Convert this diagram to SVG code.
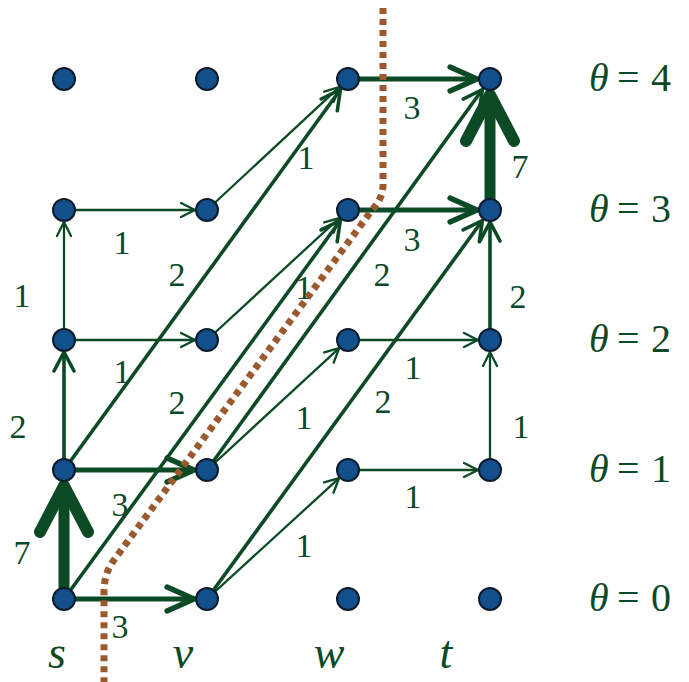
<svg xmlns="http://www.w3.org/2000/svg" width="689" height="682" viewBox="0 0 689 682">
<style>
.e{fill:none;stroke:#0c4a26;stroke-linecap:butt}
.w1{stroke-width:2.3;marker-end:url(#m1)}
.w2{stroke-width:3.6;marker-end:url(#m2)}
.w3{stroke-width:5.2;marker-end:url(#m3)}
.w7{stroke-width:11;marker-end:url(#m7)}
.n{fill:#134f8a;stroke:#0b1b2b;stroke-width:2}
.lbl{font-family:"Liberation Serif","Times New Roman",serif;font-size:34px;fill:#0c4a26;text-anchor:middle}
.th{font-family:"Liberation Serif","Times New Roman",serif;font-size:40px;fill:#0c4a26}
.nm{font-family:"Liberation Serif","Times New Roman",serif;font-size:46px;font-style:italic;fill:#0c4a26;text-anchor:middle}
.cut{fill:none;stroke:#9b5a2e;stroke-width:7;stroke-dasharray:6 5}
</style>
<defs>
<marker id="m1" markerUnits="userSpaceOnUse" markerWidth="1" markerHeight="1" refX="0" refY="0" orient="auto" overflow="visible"><path d="M-14,-7 L0,0 L-14,7" fill="none" stroke="#0c4a26" stroke-width="2.3" stroke-linecap="round" stroke-linejoin="round"/></marker>
<marker id="m2" markerUnits="userSpaceOnUse" markerWidth="1" markerHeight="1" refX="0" refY="0" orient="auto" overflow="visible"><path d="M-19,-10 L0,0 L-19,10" fill="none" stroke="#0c4a26" stroke-width="3.6" stroke-linecap="round" stroke-linejoin="round"/></marker>
<marker id="m3" markerUnits="userSpaceOnUse" markerWidth="1" markerHeight="1" refX="0" refY="0" orient="auto" overflow="visible"><path d="M-27,-12 L0,0 L-27,12" fill="none" stroke="#0c4a26" stroke-width="5.2" stroke-linecap="round" stroke-linejoin="round"/></marker>
<marker id="m7" markerUnits="userSpaceOnUse" markerWidth="1" markerHeight="1" refX="0" refY="0" orient="auto" overflow="visible"><path d="M-46,-24 L0,0 L-46,24" fill="none" stroke="#0c4a26" stroke-width="12" stroke-linecap="round" stroke-linejoin="round"/></marker>
</defs>
<rect width="689" height="682" fill="#ffffff"/>
<g id="connectors">
<line class="e w7" x1="64" y1="599" x2="64" y2="486"/>
<line class="e w3" x1="64" y1="599" x2="194" y2="599"/>
<line class="e w3" x1="64" y1="470" x2="194" y2="470"/>
<line class="e w2" x1="64" y1="470" x2="64" y2="352"/>
<line class="e w1" x1="64" y1="340" x2="64" y2="222"/>
<line class="e w1" x1="64" y1="340" x2="195" y2="340"/>
<line class="e w1" x1="64" y1="210" x2="195" y2="210"/>
<line class="e w1" x1="207" y1="210" x2="339.2" y2="87.2"/>
<line class="e w2" x1="64" y1="470" x2="340.4" y2="89.5"/>
<line class="e w2" x1="64" y1="599" x2="340.3" y2="220.5"/>
<line class="e w1" x1="207" y1="340" x2="339.2" y2="218.1"/>
<line class="e w2" x1="207" y1="470" x2="482.4" y2="89.5"/>
<line class="e w1" x1="207" y1="470" x2="339.2" y2="348.1"/>
<line class="e w2" x1="207" y1="599" x2="482.4" y2="220.5"/>
<line class="e w1" x1="207" y1="599" x2="339.1" y2="478.1"/>
<line class="e w3" x1="348" y1="79" x2="477" y2="79"/>
<line class="e w3" x1="348" y1="210" x2="477" y2="210"/>
<line class="e w1" x1="348" y1="340" x2="478" y2="340"/>
<line class="e w1" x1="348" y1="470" x2="478" y2="470"/>
<line class="e w1" x1="490" y1="470" x2="490" y2="352"/>
<line class="e w2" x1="490" y1="340" x2="490" y2="222"/>
<line class="e w7" x1="490" y1="210" x2="490" y2="95"/>
</g>
<g id="edge-labels">
<text class="lbl" x="22" y="564">7</text>
<text class="lbl" x="120" y="638">3</text>
<text class="lbl" x="120" y="516">3</text>
<text class="lbl" x="18" y="438">2</text>
<text class="lbl" x="122" y="383">1</text>
<text class="lbl" x="22" y="307">1</text>
<text class="lbl" x="122" y="254">1</text>
<text class="lbl" x="177" y="286">2</text>
<text class="lbl" x="306" y="169">1</text>
<text class="lbl" x="177" y="414">2</text>
<text class="lbl" x="304" y="299">1</text>
<text class="lbl" x="304" y="429">1</text>
<text class="lbl" x="304" y="557">1</text>
<text class="lbl" x="412" y="119">3</text>
<text class="lbl" x="412" y="251">3</text>
<text class="lbl" x="382" y="286">2</text>
<text class="lbl" x="520" y="178">7</text>
<text class="lbl" x="518" y="308">2</text>
<text class="lbl" x="413" y="379">1</text>
<text class="lbl" x="383" y="413">2</text>
<text class="lbl" x="521" y="438">1</text>
<text class="lbl" x="413" y="508">1</text>
</g>
<path id="cut" class="cut" d="M383,8 L383,185 Q383,198 372,210 L114,560 Q104,573 104,592 L104,682"/>
<g id="n-s0"><circle class="n" cx="64" cy="599" r="11"/></g>
<g id="n-v0"><circle class="n" cx="207" cy="599" r="11"/></g>
<g id="n-w0"><circle class="n" cx="348" cy="599" r="11"/></g>
<g id="n-t0"><circle class="n" cx="490" cy="599" r="11"/></g>
<g id="n-s1"><circle class="n" cx="64" cy="470" r="11"/></g>
<g id="n-v1"><circle class="n" cx="207" cy="470" r="11"/></g>
<g id="n-w1"><circle class="n" cx="348" cy="470" r="11"/></g>
<g id="n-t1"><circle class="n" cx="490" cy="470" r="11"/></g>
<g id="n-s2"><circle class="n" cx="64" cy="340" r="11"/></g>
<g id="n-v2"><circle class="n" cx="207" cy="340" r="11"/></g>
<g id="n-w2"><circle class="n" cx="348" cy="340" r="11"/></g>
<g id="n-t2"><circle class="n" cx="490" cy="340" r="11"/></g>
<g id="n-s3"><circle class="n" cx="64" cy="210" r="11"/></g>
<g id="n-v3"><circle class="n" cx="207" cy="210" r="11"/></g>
<g id="n-w3"><circle class="n" cx="348" cy="210" r="11"/></g>
<g id="n-t3"><circle class="n" cx="490" cy="210" r="11"/></g>
<g id="n-s4"><circle class="n" cx="64" cy="79" r="11"/></g>
<g id="n-v4"><circle class="n" cx="207" cy="79" r="11"/></g>
<g id="n-w4"><circle class="n" cx="348" cy="79" r="11"/></g>
<g id="n-t4"><circle class="n" cx="490" cy="79" r="11"/></g>
<g id="level-labels">
<text class="th" x="589" y="91"><tspan font-style="italic">θ</tspan><tspan x="617">=</tspan><tspan x="651">4</tspan></text>
<text class="th" x="589" y="222"><tspan font-style="italic">θ</tspan><tspan x="617">=</tspan><tspan x="651">3</tspan></text>
<text class="th" x="589" y="352"><tspan font-style="italic">θ</tspan><tspan x="617">=</tspan><tspan x="651">2</tspan></text>
<text class="th" x="589" y="482"><tspan font-style="italic">θ</tspan><tspan x="617">=</tspan><tspan x="651">1</tspan></text>
<text class="th" x="589" y="611"><tspan font-style="italic">θ</tspan><tspan x="617">=</tspan><tspan x="651">0</tspan></text>
</g>
<g id="column-labels">
<text class="nm" x="57" y="668">s</text>
<text class="nm" x="183" y="668">v</text>
<text class="nm" x="329" y="668">w</text>
<text class="nm" x="446" y="668">t</text>
</g>
</svg>
